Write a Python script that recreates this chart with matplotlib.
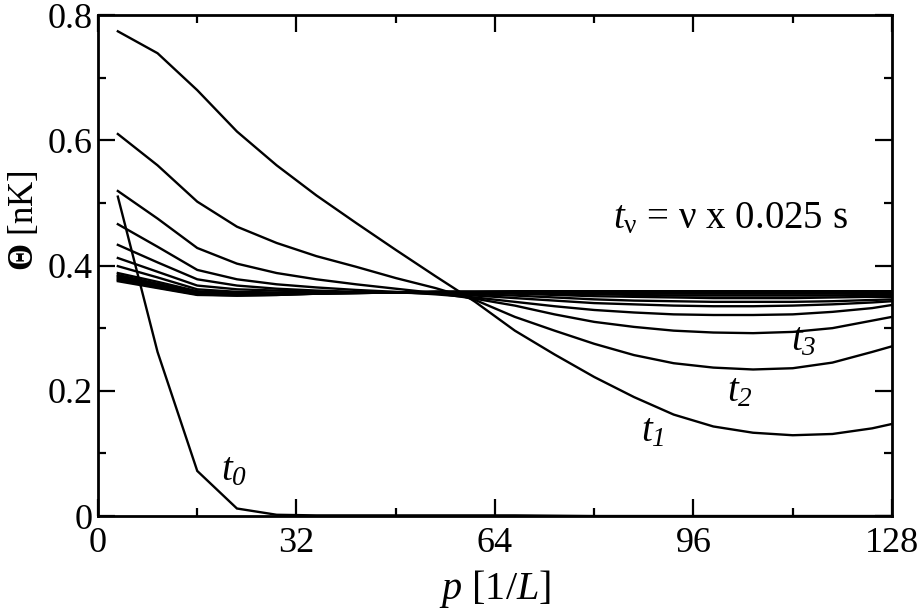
import matplotlib
matplotlib.use("Agg")
import matplotlib.pyplot as plt
from matplotlib.ticker import MultipleLocator

plt.rcParams['font.family'] = ['Liberation Serif', 'DejaVu Serif']
plt.rcParams['mathtext.fontset'] = 'custom'
# italic digits in the subscripts need an italic "rm" font
plt.rcParams['mathtext.rm'] = 'Liberation Serif:italic'
plt.rcParams['mathtext.it'] = 'Liberation Serif:italic'
plt.rcParams['mathtext.sf'] = 'Liberation Serif'
plt.rcParams['mathtext.bf'] = 'Liberation Serif:bold'

# momentum grid (bin centres) and the right edge
p = [3.2, 9.6, 16.0, 22.4, 28.8, 35.2, 41.6, 48.0, 54.4, 60.8, 67.2,
     73.6, 80.0, 86.4, 92.8, 99.2, 105.6, 112.0, 118.4, 124.8, 128.0]

# temperature profiles Theta(p) in nK at successive times t_nu
t0 = [0.510, 0.262, 0.072, 0.012, 0.002, 0.001, 0.001, 0.001, 0.001, 0.001,
      0.001, 0.0005, 0.0, 0.0, 0.0, 0.0, 0.0, 0.0, 0.0, 0.0, 0.0]
t1 = [0.774, 0.739, 0.680, 0.614, 0.560, 0.512, 0.468, 0.425, 0.383, 0.342,
      0.296, 0.258, 0.222, 0.190, 0.162, 0.143, 0.133, 0.129, 0.131, 0.140, 0.147]
t2 = [0.610, 0.560, 0.502, 0.462, 0.436, 0.415, 0.398, 0.380, 0.364, 0.345,
      0.318, 0.296, 0.275, 0.257, 0.244, 0.237, 0.234, 0.236, 0.245, 0.262, 0.271]
t3 = [0.519, 0.475, 0.428, 0.403, 0.388, 0.378, 0.370, 0.363, 0.356, 0.347,
      0.336, 0.322, 0.310, 0.302, 0.296, 0.293, 0.292, 0.294, 0.300, 0.312, 0.318]
t4 = [0.466, 0.430, 0.393, 0.378, 0.370, 0.365, 0.361, 0.358, 0.354, 0.349,
      0.342, 0.335, 0.329, 0.325, 0.322, 0.321, 0.321, 0.322, 0.326, 0.332, 0.337]
t5 = [0.433, 0.405, 0.378, 0.368, 0.363, 0.360, 0.358, 0.357, 0.355, 0.352,
      0.348, 0.344, 0.340, 0.338, 0.336, 0.335, 0.335, 0.336, 0.338, 0.341, 0.343]
t6 = [0.412, 0.390, 0.368, 0.362, 0.360, 0.358, 0.357, 0.357, 0.356, 0.354,
      0.352, 0.349, 0.346, 0.344, 0.343, 0.342, 0.342, 0.342, 0.343, 0.345, 0.346]
t7 = [0.399, 0.381, 0.362, 0.358, 0.357, 0.357, 0.357, 0.357, 0.357, 0.356,
      0.355, 0.353, 0.351, 0.350, 0.349, 0.348, 0.348, 0.348, 0.349, 0.350, 0.350]
t8 = [0.388, 0.374, 0.359, 0.356, 0.356, 0.357, 0.357, 0.357, 0.357, 0.357,
      0.356, 0.355, 0.354, 0.353, 0.352, 0.352, 0.352, 0.352, 0.352, 0.353, 0.353]
t9 = [0.385, 0.371, 0.357, 0.355, 0.355, 0.356, 0.357, 0.357, 0.357, 0.357,
      0.357, 0.356, 0.356, 0.355, 0.355, 0.355, 0.355, 0.355, 0.355, 0.355, 0.355]
t10 = [0.383, 0.369, 0.356, 0.354, 0.355, 0.356, 0.357, 0.357, 0.357, 0.357,
       0.357, 0.357, 0.357, 0.357, 0.356, 0.356, 0.356, 0.356, 0.356, 0.356, 0.356]
t11 = [0.381, 0.367, 0.355, 0.353, 0.354, 0.356, 0.357, 0.357, 0.358, 0.358,
       0.358, 0.358, 0.358, 0.358, 0.357, 0.357, 0.357, 0.357, 0.357, 0.357, 0.357]
t12 = [0.379, 0.366, 0.354, 0.353, 0.354, 0.355, 0.356, 0.357, 0.358, 0.358,
       0.358, 0.358, 0.358, 0.358, 0.358, 0.358, 0.358, 0.358, 0.358, 0.358, 0.358]
t13 = [0.377, 0.365, 0.354, 0.352, 0.353, 0.355, 0.356, 0.357, 0.358, 0.358,
       0.358, 0.359, 0.359, 0.359, 0.359, 0.359, 0.359, 0.359, 0.359, 0.359, 0.359]
t14 = [0.375, 0.364, 0.353, 0.352, 0.353, 0.355, 0.356, 0.357, 0.358, 0.358,
       0.359, 0.359, 0.359, 0.359, 0.359, 0.359, 0.359, 0.359, 0.359, 0.359, 0.359]

curves = [t0, t1, t2, t3, t4, t5, t6, t7, t8, t9, t10, t11, t12, t13, t14]

fig = plt.figure(figsize=(9.21, 6.13), dpi=100)
ax = fig.add_axes([0.1064, 0.1582, 0.8621, 0.8173])

for c in curves:
    ax.plot(p, c, color='black', lw=1.7, solid_joinstyle='miter')

ax.set_xlim(0, 128)
ax.set_ylim(0, 0.8)
ax.xaxis.set_major_locator(MultipleLocator(32))
ax.xaxis.set_minor_locator(MultipleLocator(16))
ax.yaxis.set_minor_locator(MultipleLocator(0.1))
ax.set_yticks([0, 0.2, 0.4, 0.6, 0.8])
ax.set_yticklabels(['0', '0.2', '0.4', '0.6', '0.8'])

ax.tick_params(which='both', direction='in', top=True, right=True,
               labelsize=26, width=1.6)
ax.tick_params(which='major', length=12)
ax.tick_params(which='minor', length=6)
ax.tick_params(axis='x', which='major', pad=8)
ax.tick_params(axis='y', which='major', pad=4)
for s in ax.spines.values():
    s.set_linewidth(2.0)

ax.set_xlabel(r'$p$ [1/$L$]', fontsize=29, labelpad=6)
ax.set_ylabel(r'$\mathbf{\Theta}$ [nK]', fontsize=25)
ax.yaxis.set_label_coords(-0.072, 0.59)

lab = dict(fontsize=28, ha='center', va='center')
ax.text(22.0, 0.073, r'$t_{\mathrm{0}}$', **lab)
ax.text(89.5, 0.135, r'$t_{\mathrm{1}}$', **lab)
ax.text(103.5, 0.198, r'$t_{\mathrm{2}}$', **lab)
ax.text(113.8, 0.280, r'$t_{\mathrm{3}}$', **lab)
ax.text(83.0, 0.475, r'$t_{\mathsf{ν}}$ = ν x 0.025 s', fontsize=28,
        ha='left', va='center')

fig.savefig('out.png', dpi=100)
